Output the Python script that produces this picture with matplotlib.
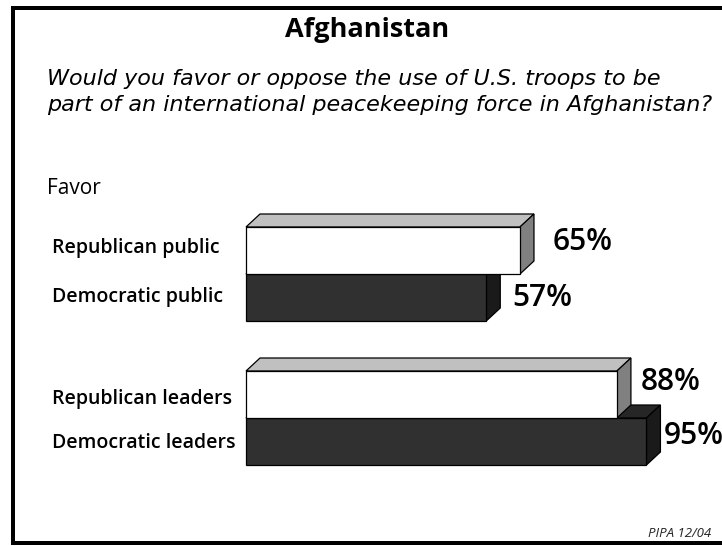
import matplotlib
matplotlib.use("Agg")
import matplotlib.pyplot as plt
from matplotlib.patches import Polygon

# ---- data ----
categories = ["Republican public", "Democratic public",
              "Republican leaders", "Democratic leaders"]
favor_pct = [65, 57, 88, 95]
value_labels = ["65%", "57%", "88%", "95%"]

title = "Afghanistan"
question = ("Would you favor or oppose the use of U.S. troops to be\n"
            "part of an international peacekeeping force in Afghanistan?")
section = "Favor"
source = "PIPA 12/04"

W, H = 722, 546
fig = plt.figure(figsize=(W / 100, H / 100), dpi=100)
fig.patch.set_facecolor("white")

# overlay axes in pixel coordinates for frame and text
ov = fig.add_axes([0, 0, 1, 1])
ov.set_xlim(0, W)
ov.set_ylim(H, 0)
ov.axis("off")

# chart axes: x in percent, y in pixel rows
x0_px, px_per_pct = 246, 4.215
ax = fig.add_axes([x0_px / W, 0, 100 * px_per_pct / W, 1])
ax.set_xlim(0, 100)
ax.set_ylim(H, 0)
ax.axis("off")
ax.patch.set_alpha(0)

depth_x = 14 / px_per_pct   # depth offset in percent units
depth_y = 13                # depth offset in pixel rows

styles = {
    "Republican": dict(front="#ffffff", top="#c0c0c0", side="#808080"),
    "Democratic": dict(front="#303030", top="#262626", side="#1a1a1a"),
}

bar_tops = [227, 274, 371, 418]
bar_h = 47


def bar3d(y_top, value, st):
    yb = y_top + bar_h
    kw = dict(edgecolor="black", linewidth=0.9, joinstyle="miter", clip_on=False)
    ax.add_patch(Polygon([(0, y_top), (depth_x, y_top - depth_y),
                          (value + depth_x, y_top - depth_y), (value, y_top)],
                         closed=True, facecolor=st["top"], **kw))
    ax.add_patch(Polygon([(value, y_top), (value + depth_x, y_top - depth_y),
                          (value + depth_x, yb - depth_y), (value, yb)],
                         closed=True, facecolor=st["side"], **kw))
    ax.add_patch(Polygon([(0, y_top), (value, y_top), (value, yb), (0, yb)],
                         closed=True, facecolor=st["front"], **kw))


# draw lower bar of each pair first so the upper bar's front overlaps it
for pair in [(0, 1), (2, 3)]:
    for i in reversed(pair):
        party = categories[i].split()[0]
        bar3d(bar_tops[i], favor_pct[i], styles[party])

# value labels: (gap in px after bar side, vertical shift in px)
label_shift = [(19, -8), (12, 0), (10, -12), (3, -5)]
for i, v in enumerate(favor_pct):
    gx, gy = label_shift[i]
    ax.text(v + depth_x + gx / px_per_pct, bar_tops[i] + bar_h / 2 + gy,
            value_labels[i], ha="left", va="center", fontsize=21.5,
            family="Open Sans", fontweight="semibold", color="black",
            clip_on=False)

# category labels
label_y = [248, 297, 399, 443]
for lab, y in zip(categories, label_y):
    ov.text(52, y, lab, ha="left", va="center", fontsize=14,
            family="Open Sans", fontweight="semibold", color="black")

# titles and notes
ov.text(367, 30, title, ha="center", va="center", fontsize=19.5,
        family="Open Sans", fontweight="bold", color="black")
ov.text(47, 92, question, ha="left", va="center", fontsize=16,
        family="DejaVu Sans", style="italic",
        color="black", linespacing=1.38)
ov.text(47, 189, section, ha="left", va="center", fontsize=15,
        family="Open Sans", color="black")
ov.text(648, 537, source, ha="left", va="baseline", fontsize=9.5,
        family="Open Sans", style="italic", color="#222222")

# frame
lw = 4 * 72 / 100
ov.plot([W + 5, 13, 13, W + 5], [8, 8, 543, 543], color="black",
        linewidth=lw, solid_joinstyle="miter", solid_capstyle="butt",
        clip_on=False)

fig.savefig("out.png", dpi=100, facecolor="white")
